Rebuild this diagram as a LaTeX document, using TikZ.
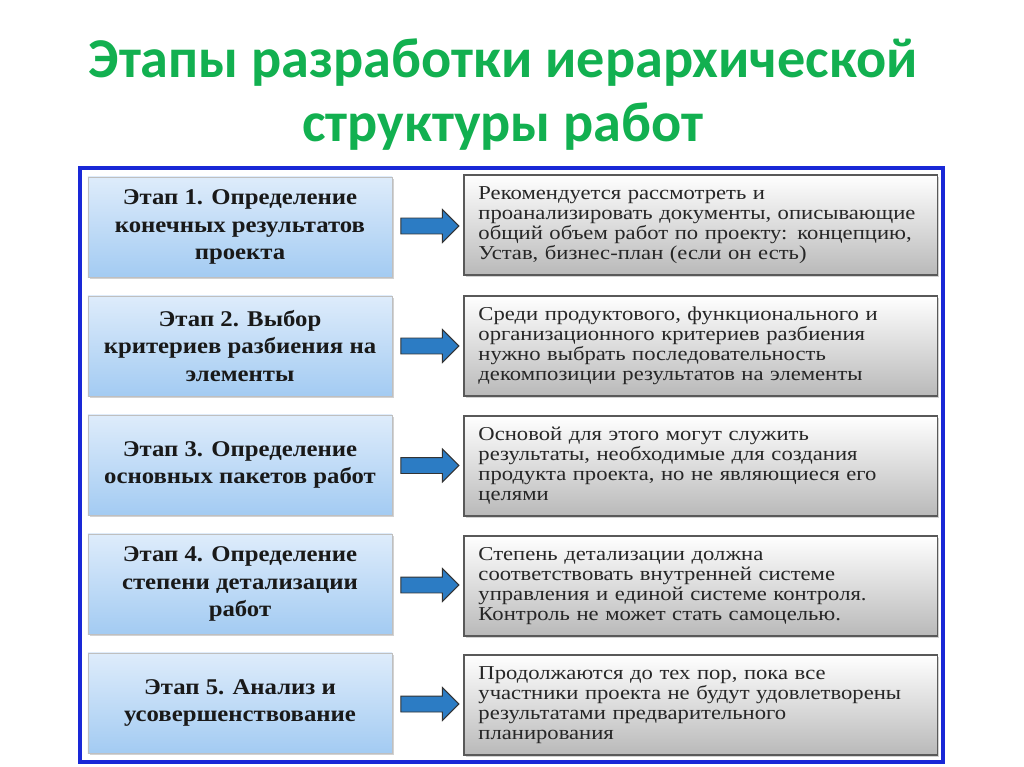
\documentclass[tikz,border=0pt]{standalone}
\usepackage{fontspec}
\setmainfont{Liberation Serif}
\newfontfamily\titlefont{Carlito}
\newfontfamily\stagefont[FakeStretch=1.1]{Liberation Serif}
\newfontfamily\descfont[FakeStretch=1.15]{Liberation Serif}
\usepackage{xcolor}
\usetikzlibrary{positioning, shapes.arrows, shadows}
\definecolor{titlegreen}{RGB}{18,176,80}
\definecolor{framblue}{RGB}{25,40,215}
\definecolor{stagetop}{RGB}{222,236,251}
\definecolor{stagebot}{RGB}{163,203,242}
\definecolor{arrowblue}{RGB}{44,124,196}
\tikzset{
  stagebox/.style={draw=gray!50, line width=0.6pt, top color=stagetop, bottom color=stagebot,
    minimum width=7.6cm, minimum height=2.5cm, align=center, text=black!90,
    font=\stagefont\fontsize{16}{19.6}\selectfont\bfseries, drop shadow={opacity=0.35, shadow xshift=1.5pt, shadow yshift=-1.5pt}},
  descbox/.style={draw=black!65, line width=0.8pt, top color=white, bottom color=gray!55,
    minimum width=11.825cm, minimum height=2.5cm, text width=11.1cm, align=left, text=black!85,
    font=\descfont\fontsize{14}{14.2}\selectfont, drop shadow={opacity=0.35, shadow xshift=1.5pt, shadow yshift=-1.5pt}},
  bigarrow/.style={single arrow, draw=black!80, line width=0.7pt, fill=arrowblue,
    minimum height=1.45cm, minimum width=0pt, inner xsep=0pt, inner ysep=0.1875cm,
    single arrow head extend=0.2125cm, xshift=-1.5pt}
}

\begin{document}
\begin{tikzpicture}[x=0.025cm, y=-0.025cm]
    \useasboundingbox (0,0) rectangle (1024,767);
    \fill[white] (0,0) rectangle (1024,767);

    % title
    \node[text=titlegreen, font=\titlefont\fontsize{40}{45.5}\selectfont\bfseries, align=center] (title) at (503,95)
        {Этапы разработки иерархической\\структуры работ};

    \draw[framblue, line width=3pt] (80,168) rectangle (943,762);

    \node[stagebox] (s1) at (240,227) {Этап 1. Определение\\конечных результатов\\проекта};
    \node[stagebox] (s2) at (240,346) {Этап 2. Выбор\\критериев разбиения на\\элементы};
    \node[stagebox] (s3) at (240,465) {Этап 3. Определение\\основных пакетов работ};
    \node[stagebox] (s4) at (240,584) {Этап 4. Определение\\степени детализации\\работ};
    \node[stagebox] (s5) at (240,703) {Этап 5. Анализ и\\усовершенствование};

    \node[descbox] (d1) at (700.5,225) {Рекомендуется рассмотреть и\\проанализировать документы, описывающие\\общий объем работ по проекту: концепцию,\\Устав, бизнес-план (если он есть)};
    \node[descbox] (d2) at (700.5,346) {Среди продуктового, функционального и\\организационного критериев разбиения\\нужно выбрать последовательность\\декомпозиции результатов на элементы};
    \node[descbox] (d3) at (700.5,466) {Основой для этого могут служить\\результаты, необходимые для создания\\продукта проекта, но не являющиеся его\\целями};
    \node[descbox] (d4) at (700.5,586) {Степень детализации должна\\соответствовать внутренней системе\\управления и единой системе контроля.\\Контроль не может стать самоцелью.};
    \node[descbox] (d5) at (700.5,705) {Продолжаются до тех пор, пока все\\участники проекта не будут удовлетворены\\результатами предварительного\\планирования};

    \foreach \i in {1,...,5}
        \path (s\i.east) -- (d\i.west) node[midway, bigarrow] (a\i) {};
\end{tikzpicture}
\end{document}
